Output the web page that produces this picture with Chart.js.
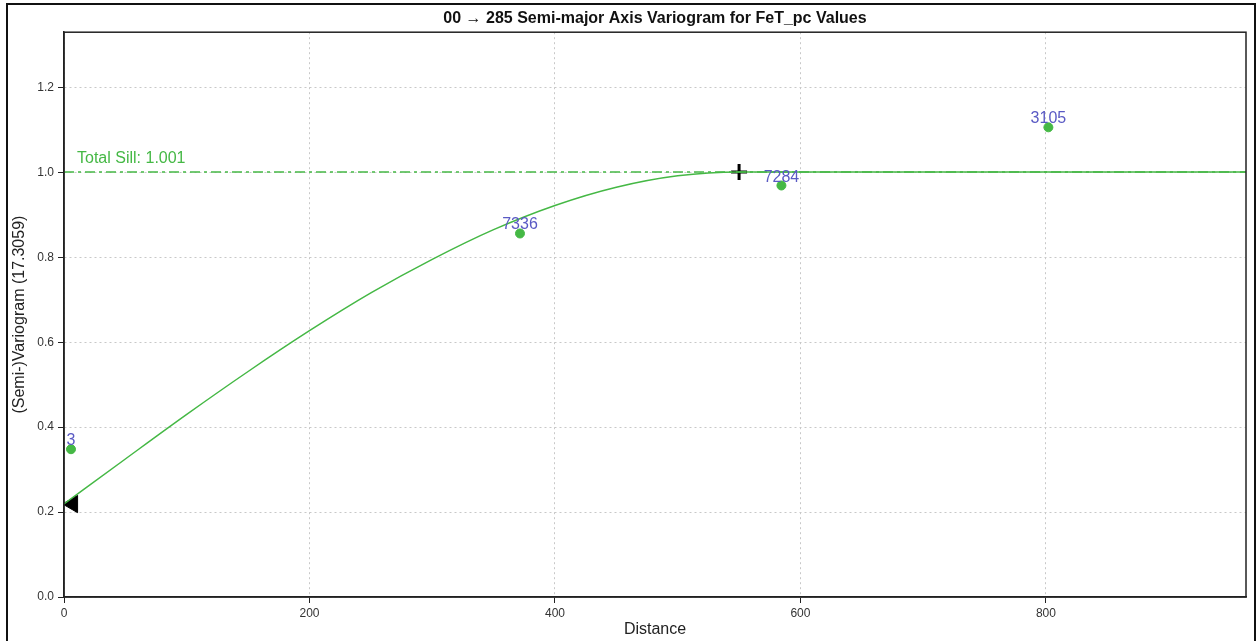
<!DOCTYPE html>
<html>
<head>
<meta charset="utf-8">
<script src="https://cdn.jsdelivr.net/npm/chart.js@4"></script>
<style>
  html, body { margin: 0; padding: 0; background: #fff; overflow: hidden; }
  #wrap { position: relative; width: 1257px; height: 641px; }
  #frame { position: absolute; left: 6px; top: 3px; width: 1246px; height: 660px;
           border: 2px solid #111; pointer-events: none; }
  canvas { position: absolute; left: 0; top: 0; }
</style>
</head>
<body>
<div id="wrap">
  <canvas id="c" width="1257" height="641"></canvas>
  <div id="frame"></div>
</div>
<script>
// experimental variogram lags: distance, gamma, pair count label
var lagDist  = [5.7, 371.5, 584.5, 802];
var lagGamma = [0.348, 0.856, 0.969, 1.106];
var lagPairs = ["3", "7336", "7284", "3105"];

// fitted model curve
var modelDist  = [0, 50, 100, 150, 200, 250, 300, 350, 400, 450, 500, 550, 963];
var modelGamma = [0.219, 0.325, 0.430, 0.531, 0.627, 0.716, 0.795, 0.865, 0.922, 0.965, 0.992, 1.001, 1.001];

var sillValue = 1.001;
var sillDist  = [0, 963];
var nuggetPt  = [7, 0.219];
var rangePt   = [550, 1.001];

var xTicks = [0, 200, 400, 600, 800];
var yTicks = [0.0, 0.2, 0.4, 0.6, 0.8, 1.0, 1.2];

var green = "#45b845", labelBlue = "#5a5ac4";
var FONT = "'Liberation Sans', Arial, sans-serif";

function pts(xs, ys) {
  return xs.map(function (x, i) { return { x: x, y: ys[i] }; });
}

// pair-count labels + sill text + axes frame
var annot = {
  id: "annot",
  afterDatasetsDraw: function (chart) {
    var ctx = chart.ctx, xs = chart.scales.x, ys = chart.scales.y, a = chart.chartArea;
    ctx.save();
    ctx.setLineDash([]);
    ctx.strokeStyle = "#222";
    ctx.lineWidth = 1.5;
    ctx.strokeRect(a.left, a.top, a.right - a.left, a.bottom - a.top);
    ctx.font = "16px " + FONT;
    ctx.fillStyle = labelBlue;
    ctx.textAlign = "center";
    ctx.textBaseline = "alphabetic";
    lagDist.forEach(function (d, i) {
      ctx.fillText(lagPairs[i], xs.getPixelForValue(d), ys.getPixelForValue(lagGamma[i]) - 4);
    });
    ctx.fillStyle = green;
    ctx.textAlign = "left";
    ctx.fillText("Total Sill: " + sillValue.toFixed(3), xs.getPixelForValue(10.6), ys.getPixelForValue(sillValue) - 9);
    ctx.restore();
  }
};

function keepTicks(list) {
  return function (scale) {
    scale.ticks = scale.ticks.filter(function (t) {
      return list.some(function (v) { return Math.abs(v - t.value) < 1e-6; });
    });
  };
}

var gridOpts = { color: "#c8c8c8", tickBorderDash: [], tickColor: "#222",
                 tickLength: 6, lineWidth: 1 };
var borderOpts = { display: true, color: "#222", width: 1.5, dash: [2, 3] };

new Chart(document.getElementById("c").getContext("2d"), {
  type: "scatter",
  data: {
    datasets: [
      { type: "line", label: "sill", data: pts(sillDist, [sillValue, sillValue]),
        borderColor: green, borderWidth: 1.5, borderDash: [10, 4, 3, 4], pointRadius: 0 },
      { type: "line", label: "model", data: pts(modelDist, modelGamma),
        borderColor: green, borderWidth: 1.5, pointRadius: 0, cubicInterpolationMode: "monotone" },
      { label: "lags", data: pts(lagDist, lagGamma),
        backgroundColor: green, borderColor: green, pointRadius: 4.5 },
      { label: "nugget", data: [{ x: nuggetPt[0], y: nuggetPt[1] }],
        pointStyle: "triangle", rotation: -90, pointRadius: 10,
        backgroundColor: "#000", borderColor: "#000" },
      { label: "range", data: [{ x: rangePt[0], y: rangePt[1] }],
        pointStyle: "cross", pointRadius: 8, borderWidth: 3,
        backgroundColor: "#000", borderColor: "#000" }
    ]
  },
  options: {
    responsive: false,
    animation: false,
    events: [],
    layout: { padding: { left: 10, right: 0, top: 0, bottom: 0 } },
    scales: {
      x: {
        type: "linear", min: 0, max: 963,
        afterBuildTicks: keepTicks(xTicks),
        afterFit: function (s) { s.height = 44; },
        ticks: { color: "#333", font: { size: 12, family: FONT }, padding: 3, maxRotation: 0 },
        grid: gridOpts,
        border: borderOpts,
        title: { display: true, text: "Distance", color: "#222", padding: { top: 0, bottom: 2 },
                 font: { size: 16, family: FONT } }
      },
      y: {
        type: "linear", min: 0, max: 1.33,
        afterBuildTicks: keepTicks(yTicks),
        afterFit: function (s) { s.width = 54; },
        ticks: { color: "#333", font: { size: 12, family: FONT },
                 padding: 4, callback: function (v) { return Number(v).toFixed(1); } },
        grid: gridOpts,
        border: borderOpts,
        title: { display: true, text: "(Semi-)Variogram (17.3059)", color: "#222", padding: { top: 0, bottom: 0 },
                 font: { size: 16, family: FONT } }
      }
    },
    plugins: {
      legend: { display: false },
      tooltip: { enabled: false },
      title: { display: true, fullSize: false, text: "00 \u2192 285 Semi-major Axis Variogram for FeT_pc Values",
               color: "#111", padding: { top: 9, bottom: 4 },
               font: { size: 16, weight: "bold", family: FONT } }
    }
  },
  plugins: [annot]
});
</script>
</body>
</html>
